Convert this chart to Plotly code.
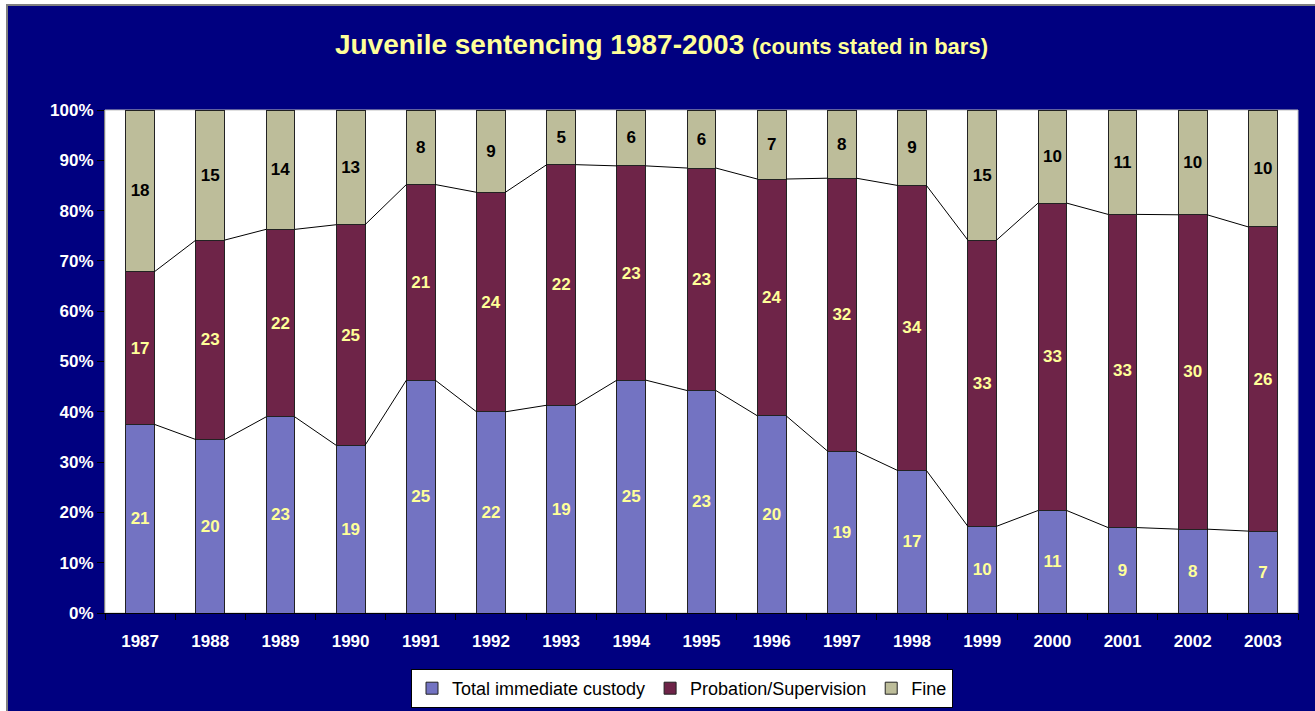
import plotly.graph_objects as go

years = list(range(1987, 2004))
year_labels = [str(y) for y in years]
custody = [21, 20, 23, 19, 25, 22, 19, 25, 23, 20, 19, 17, 10, 11, 9, 8, 7]
probation = [17, 23, 22, 25, 21, 24, 22, 23, 23, 24, 32, 34, 33, 33, 33, 30, 26]
fine = [18, 15, 14, 13, 8, 9, 5, 6, 6, 7, 8, 9, 15, 10, 11, 10, 10]
series_names = ["Total immediate custody", "Probation/Supervision", "Fine"]
pct_ticks = list(range(0, 101, 10))
pct_labels = [f"{v}%" for v in pct_ticks]

BAR_W = 0.41
NAVY = "#000080"
FONT = "Liberation Sans, Arial, sans-serif"

colors = ["#7373C2", "#6E2448", "#BDBD9A"]
text_colors = ["#FFFF99", "#FFFF99", "#000000"]

fig = go.Figure()
for name, vals, col, tcol in zip(series_names, [custody, probation, fine], colors, text_colors):
    fig.add_trace(go.Bar(
        x=years, y=vals, name=name, width=BAR_W,
        text=vals, texttemplate="%{text}",
        textposition="inside", insidetextanchor="middle", textangle=0,
        textfont=dict(family=FONT, size=17, color=tcol, weight="bold"),
        marker=dict(color=col, line=dict(color="#222222", width=1)),
    ))

# series lines joining segment tops
totals = [c + p + f for c, p, f in zip(custody, probation, fine)]
cum1 = [100.0 * c / t for c, t in zip(custody, totals)]
cum2 = [100.0 * (c + p) / t for c, p, t in zip(custody, probation, totals)]
for cum in (cum1, cum2):
    xs, ys = [], []
    for i in range(len(years) - 1):
        xs += [years[i] + BAR_W / 2, years[i + 1] - BAR_W / 2, None]
        ys += [cum[i], cum[i + 1], None]
    fig.add_trace(go.Scatter(x=xs, y=ys, mode="lines", showlegend=False,
                             hoverinfo="skip", line=dict(color="black", width=1)))

ML, MR, MT, MB = 105, 17, 110, 98
W, H = 1315, 711
pw, ph = W - ML - MR, H - MT - MB

def px_x(p):
    return (p - ML) / pw

def px_y(p):
    return (H - MB - p) / ph

shapes = [
    dict(type="rect", xref="paper", yref="paper", layer="below",
         x0=px_x(7), x1=px_x(1340), y0=px_y(760), y1=px_y(5),
         fillcolor=NAVY, line=dict(color="#808080", width=2)),
    dict(type="rect", xref="paper", yref="paper", layer="below",
         x0=0, x1=1, y0=0, y1=1, fillcolor="white",
         line=dict(color="#C0C0C0", width=1)),
]

fig.update_layout(
    width=W, height=H,
    margin=dict(l=ML, r=MR, t=MT, b=MB, autoexpand=False),
    paper_bgcolor="white", plot_bgcolor="rgba(0,0,0,0)",
    barmode="stack", barnorm="percent",
    shapes=shapes,
    title=dict(
        text="<b>Juvenile sentencing 1987-2003</b> <span style='font-size:22px'><b>(counts stated in bars)</b></span>",
        font=dict(family=FONT, size=28, color="#FFFF99"),
        x=0.503, xanchor="center", xref="container",
        y=1 - 44 / H, yanchor="middle", yref="container",
    ),
    xaxis=dict(
        range=[1986.5, 2003.5], tickmode="array", tickvals=years, ticktext=year_labels,
        ticks="", showgrid=False, zeroline=False, automargin=False,
        showline=True, linecolor="black", linewidth=1,
        tickfont=dict(family=FONT, size=17, color="white", weight="bold"),
        ticklabelstandoff=13,
        minor=dict(tickmode="linear", tick0=1986.5, dtick=1, ticks="outside",
                   ticklen=6, tickcolor="black", tickwidth=1, showgrid=False),
    ),
    yaxis=dict(
        range=[0, 100], tickmode="array", tickvals=pct_ticks, ticktext=pct_labels,
        ticks="outside", ticklen=7, tickcolor="black",
        showgrid=False, zeroline=False, automargin=False,
        showline=True, linecolor="#808080", linewidth=1,
        tickfont=dict(family=FONT, size=17, color="white", weight="bold"),
    ),
    legend=dict(
        orientation="h", x=px_x(682), xanchor="center", y=px_y(708), yanchor="bottom",
        bgcolor="white", bordercolor="black", borderwidth=1,
        font=dict(family=FONT, size=18, color="black"),
        traceorder="normal", itemwidth=30, tracegroupgap=0,
    ),
    hovermode=False,
)

fig.write_html("out.html", config={"displayModeBar": False},
               post_script="document.body.style.margin='0';document.body.style.padding='0';")
